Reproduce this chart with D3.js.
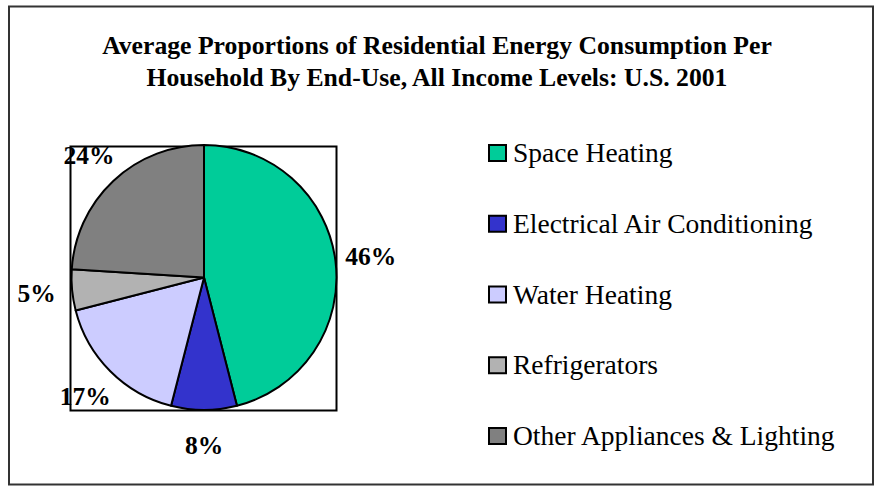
<!DOCTYPE html>
<html>
<head>
<meta charset="utf-8">
<script src="https://cdnjs.cloudflare.com/ajax/libs/d3/7.8.5/d3.min.js"></script>
<style>
  body { margin: 0; background: #fff; }
  text { font-family: "Liberation Serif", "Times New Roman", serif; fill: #000; }
</style>
</head>
<body>
<div id="chart"></div>
<script>
// chart data
const categories = ['Space Heating', 'Electrical Air Conditioning', 'Water Heating', 'Refrigerators', 'Other Appliances & Lighting'];
const shares = [46, 8, 17, 5, 24];
const colors = ['#00CC99', '#3333CC', '#CCCCFF', '#B2B2B2', '#808080'];
const titleLines = ['Average Proportions of Residential Energy Consumption Per', 'Household By End-Use, All Income Levels: U.S. 2001'];

const width = 875, height = 487;
const cx = 204, cy = 277.5, radius = 132.5;

const svg = d3.select('#chart').append('svg')
  .attr('width', width)
  .attr('height', height);

svg.append('rect')
  .attr('width', width).attr('height', height)
  .attr('fill', '#fff');

// outer frame
svg.append('rect')
  .attr('x', 9).attr('y', 6.5)
  .attr('width', 864).attr('height', 478)
  .attr('fill', 'none')
  .attr('stroke', '#333')
  .attr('stroke-width', 2);

// title
svg.append('g').selectAll('text')
  .data(titleLines)
  .join('text')
  .attr('x', 437)
  .attr('y', (d, i) => 54 + i * 32)
  .attr('text-anchor', 'middle')
  .attr('font-weight', 'bold')
  .attr('font-size', 25.7)
  .text(d => d);

// plot area box
svg.append('rect')
  .attr('x', 70.5).attr('y', 146.5)
  .attr('width', 266).attr('height', 264)
  .attr('fill', 'none')
  .attr('stroke', '#000')
  .attr('stroke-width', 2);

const pie = d3.pie().sort(null).value(d => d);
const arcs = pie(shares);
const arc = d3.arc().innerRadius(0).outerRadius(radius);
const labelArc = d3.arc().innerRadius(168).outerRadius(168);

const g = svg.append('g').attr('transform', `translate(${cx},${cy})`);

g.selectAll('path')
  .data(arcs)
  .join('path')
  .attr('d', arc)
  .attr('fill', (d, i) => colors[i])
  .attr('stroke', '#000')
  .attr('stroke-width', 2)
  .attr('stroke-linejoin', 'round');

g.selectAll('text')
  .data(arcs)
  .join('text')
  .attr('transform', d => `translate(${labelArc.centroid(d)})`)
  .attr('text-anchor', 'middle')
  .attr('dy', '0.35em')
  .attr('font-weight', 'bold')
  .attr('font-size', 25.5)
  .text(d => d.data + '%');

// legend
const legend = svg.append('g').selectAll('g')
  .data(categories)
  .join('g')
  .attr('transform', (d, i) => `translate(489,${153 + i * 70.75})`);

legend.append('rect')
  .attr('x', 0).attr('y', -8)
  .attr('width', 17).attr('height', 16)
  .attr('fill', (d, i) => colors[i])
  .attr('stroke', '#000')
  .attr('stroke-width', 2);

legend.append('text')
  .attr('x', 24)
  .attr('y', 9)
  .attr('font-size', 27.5)
  .text(d => d);
</script>
</body>
</html>
